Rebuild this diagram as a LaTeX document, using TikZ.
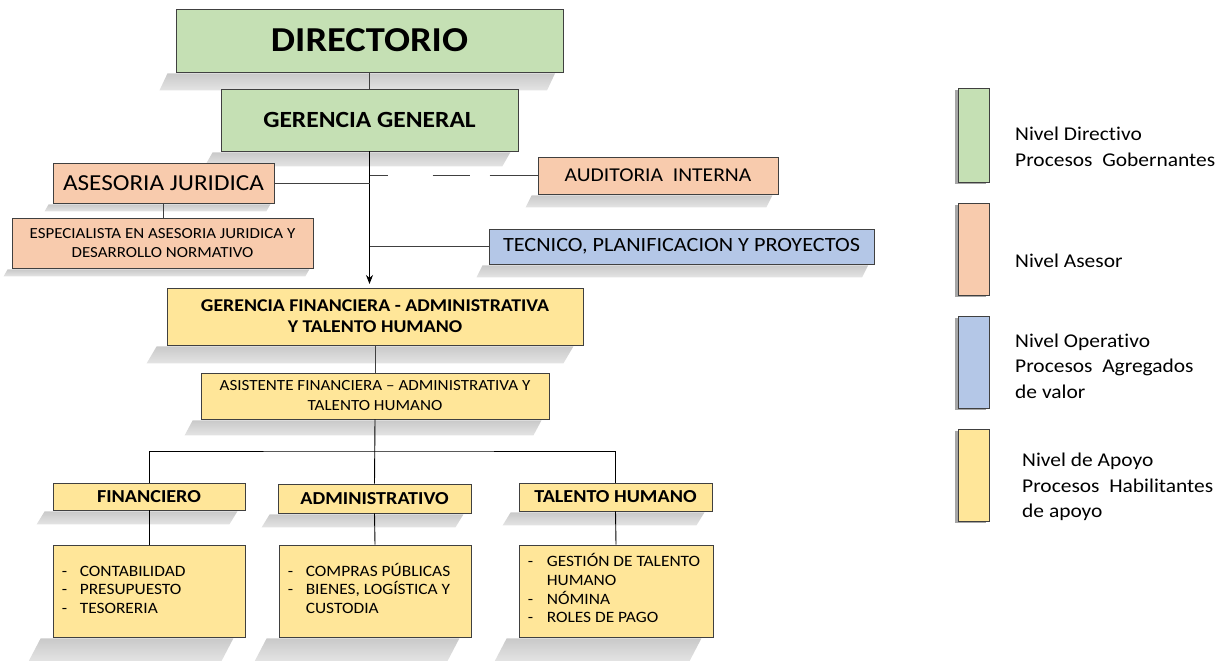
\documentclass[tikz,border=0pt]{standalone}
\usepackage{fontspec}
\setmainfont[FakeStretch=1.1, Ligatures=NoCommon]{Carlito}
\usetikzlibrary{arrows.meta,backgrounds,fadings}
\definecolor{cgreen}{HTML}{C5E0B4}
\definecolor{corange}{HTML}{F8CBAD}
\definecolor{cblue}{HTML}{B4C7E7}
\definecolor{cyellow}{HTML}{FFE699}
\definecolor{cline}{HTML}{404040}
\tikzfading[name=shfade, top color=transparent!30, middle color=transparent!0, bottom color=transparent!65]
\newcommand\fs[1]{\fontsize{#1}{1.25\dimexpr#1pt\relax}\selectfont}
% \myshadow{node}{top shift}{bottom shift}{depth}
\newcommand\myshadow[4]{%
  \fill[black, opacity=.3, path fading=shfade]
    ([xshift=-#2pt,yshift=-1pt]#1.south west) -- ([xshift=-#2pt,yshift=-1pt]#1.south east)
    -- ([xshift=-#3pt,yshift=-#4pt]#1.south east)
    -- ([xshift=-#3pt,yshift=-#4pt]#1.south west) -- cycle;}
\begin{document}
\begin{tikzpicture}[x=1pt,y=-1pt,
  box/.style={draw=cline, line width=0.8pt, inner sep=0pt, align=center},
  gbox/.style={box, fill=cgreen},
  obox/.style={box, fill=corange},
  bbox/.style={box, fill=cblue},
  ybox/.style={box, fill=cyellow},
  conn/.style={draw=cline, line width=0.9pt},
  lgtext/.style={anchor=west, align=left, inner sep=0pt, font=\fontsize{19.5}{25.5}\selectfont},
  listtext/.style={anchor=west, inner sep=0pt, font=\fontsize{15.8}{18.6}\selectfont}
]
\useasboundingbox (0,0) rectangle (1223,661);

% main boxes
\node[gbox, minimum width=387pt, minimum height=63pt, font=\fs{35}\bfseries] (dir) at (369.5,40.5) {DIRECTORIO};
\node[gbox, minimum width=297pt, minimum height=62pt, font=\fs{23.2}\bfseries] (gg) at (369.5,120) {GERENCIA GENERAL};
\node[obox, minimum width=221pt, minimum height=40pt, font=\fs{22.9}] (aj) at (163.5,183) {ASESORIA JURIDICA};
\node[obox, minimum width=240pt, minimum height=37pt, font=\fs{19.6}] (ai) at (658,175.5) {AUDITORIA\ \ INTERNA};
\node[obox, minimum width=301pt, minimum height=50pt, font=\fontsize{15.4}{19}\selectfont] (esp) at (162.5,243) {ESPECIALISTA EN ASESORIA JURIDICA Y\\DESARROLLO NORMATIVO};
\node[bbox, minimum width=385pt, minimum height=35pt, font=\fs{20.2}] (tec) at (681.5,246.5) {TECNICO, PLANIFICACION Y PROYECTOS};
\node[ybox, minimum width=416pt, minimum height=57pt, font=\fontsize{18}{21}\selectfont\bfseries] (gf) at (375,316.5) {GERENCIA FINANCIERA - ADMINISTRATIVA\\Y TALENTO HUMANO};
\node[ybox, minimum width=348pt, minimum height=46pt, font=\fontsize{15.5}{20}\selectfont] (asis) at (375,396) {ASISTENTE FINANCIERA -- ADMINISTRATIVA Y\\TALENTO HUMANO};
\node[ybox, minimum width=192pt, minimum height=27pt, font=\fs{18.3}\bfseries] (fin) at (149,496.5) {FINANCIERO};
\node[ybox, minimum width=193pt, minimum height=29pt, font=\fs{18.3}\bfseries] (adm) at (374.5,498.5) {ADMINISTRATIVO};
\node[ybox, minimum width=193pt, minimum height=28pt, font=\fs{18.3}\bfseries] (th) at (615.5,497) {TALENTO HUMANO};
\node[ybox, minimum width=192pt, minimum height=92pt] (finl) at (149,591) {};
\node[ybox, minimum width=192pt, minimum height=92pt] (adml) at (375,591) {};
\node[ybox, minimum width=194pt, minimum height=92pt] (thl) at (616,591) {};

% list texts
\node[listtext] (finlt) at ([xshift=9pt]finl.west) {\begin{tabular}{@{}p{18pt}@{}l@{}}-&CONTABILIDAD\\-&PRESUPUESTO\\-&TESORERIA\end{tabular}};
\node[listtext] (admlt) at ([xshift=9pt]adml.west) {\begin{tabular}{@{}p{18pt}@{}l@{}}-&COMPRAS PÚBLICAS\\-&BIENES, LOGÍSTICA Y\\&CUSTODIA\end{tabular}};
\node[listtext] (thlt) at ([xshift=9pt]thl.west) {\begin{tabular}{@{}p{19pt}@{}l@{}}-&GESTIÓN DE TALENTO\\&HUMANO\\-&NÓMINA\\-&ROLES DE PAGO\end{tabular}};

% legend
\node[gbox, minimum width=31pt, minimum height=94pt] (lg1) at (973.5,135) {};
\node[obox, minimum width=31pt, minimum height=92pt] (lg2) at (973.5,249) {};
\node[bbox, minimum width=31pt, minimum height=92pt] (lg3) at (973.5,362) {};
\node[ybox, minimum width=31pt, minimum height=92pt] (lg4) at (973.5,475) {};
\node[lgtext] (lt1) at (1015,147) {Nivel Directivo\\Procesos\ \ Gobernantes};
\node[lgtext] (lt2) at (1015,261) {Nivel Asesor};
\node[lgtext] (lt3) at (1015,366) {Nivel Operativo\\Procesos\ \ Agregados\\de valor};
\node[lgtext] (lt4) at (1022,487) {Nivel de Apoyo\\Procesos\ \ Habilitantes\\de apoyo};

% connectors
\coordinate (arr) at (369.5,284);
\coordinate (bus) at (375,451);
\draw[conn] (dir.south) -- (gg.north);
\draw[conn, draw=black, -{Stealth[length=9pt,width=7pt]}] (gg.south) -- (arr);
\draw[conn] (aj.east) -- (aj.east -| gg.south);
\draw[conn, dash pattern=on 18pt off 45pt on 37pt off 20pt on 60pt] (ai.west -| gg.south) -- (ai.west);
\draw[conn] (tec.west) -- (tec.west -| gg.south);
\draw[conn] (aj.south) -- (aj.south |- esp.north);
\draw[conn] (gf.south) -- (asis.north);
\draw[conn, draw=black] (asis.south) -- (adm.north);
\draw[conn, draw=black] (fin.north) |- (bus) -| (th.north);
\draw[conn, draw=black] (fin.south) -- (finl.north);
\draw[conn, draw=black] (adm.south) -- (adml.north);
\draw[conn, draw=black] (th.south) -- (thl.north);

% shadows
\begin{scope}[on background layer]
\fill[white] (0,0) rectangle (1223,661);
\myshadow{dir}{8}{16}{18}
\myshadow{gg}{8}{16}{15}
\myshadow{aj}{4}{8}{8}
\myshadow{ai}{6}{12}{13}
\myshadow{esp}{4}{8}{8}
\myshadow{tec}{6}{12}{13}
\myshadow{gf}{10}{20}{18}
\myshadow{asis}{8}{16}{16}
\myshadow{fin}{8}{16}{14}
\myshadow{adm}{8}{16}{14}
\myshadow{th}{8}{16}{14}
\myshadow{finl}{12}{24}{24}
\myshadow{adml}{12}{24}{24}
\myshadow{thl}{12}{24}{24}
\fill[black, opacity=.35] ([xshift=-3pt,yshift=-2pt]lg1.north west) rectangle ([xshift=-3pt,yshift=-2pt]lg1.south east);
\fill[black, opacity=.35] ([xshift=-3pt,yshift=-2pt]lg2.north west) rectangle ([xshift=-3pt,yshift=-2pt]lg2.south east);
\fill[black, opacity=.35] ([xshift=-3pt,yshift=-2pt]lg3.north west) rectangle ([xshift=-3pt,yshift=-2pt]lg3.south east);
\fill[black, opacity=.35] ([xshift=-3pt,yshift=-2pt]lg4.north west) rectangle ([xshift=-3pt,yshift=-2pt]lg4.south east);
\end{scope}
\end{tikzpicture}
\end{document}
